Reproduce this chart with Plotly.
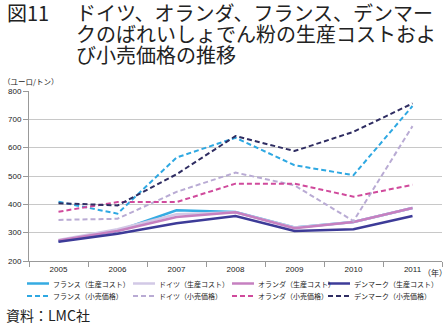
import plotly.graph_objects as go

years = ["2005", "2006", "2007", "2008", "2009", "2010", "2011"]

france_cost = [270, 306, 379, 373, 318, 338, 387]
germany_cost = [274, 312, 365, 372, 318, 338, 387]
netherlands_cost = [272, 306, 355, 372, 316, 338, 387]
denmark_cost = [268, 296, 333, 359, 306, 312, 359]

france_retail = [409, 367, 565, 635, 538, 503, 747]
germany_retail = [345, 349, 444, 512, 467, 341, 676]
netherlands_retail = [374, 408, 408, 473, 473, 427, 469]
denmark_retail = [404, 396, 506, 641, 588, 656, 756]

title_lines = ["ドイツ、オランダ、フランス、デンマー",
               "クのばれいしょでん粉の生産コストおよ",
               "び小売価格の推移"]

W, H = 447, 327
L, R, T, B = 29, 5, 91, 66
PW, PH = W - L - R, H - T - B

def px(x):
    return (x - L) / PW

def py(y):
    return (H - B - y) / PH

FONT = "Noto Sans CJK JP"
DASH = "5px,3px"

series = [
    ("フランス（生産コスト）", france_cost, "#35abe2", "solid", 2.5),
    ("ドイツ（生産コスト）", germany_cost, "#d2c9e6", "solid", 2.5),
    ("オランダ（生産コスト）", netherlands_cost, "#c680c0", "solid", 2.5),
    ("デンマーク（生産コスト）", denmark_cost, "#3d3b98", "solid", 2.5),
    ("フランス（小売価格）", france_retail, "#2ea8e2", DASH, 2),
    ("ドイツ（小売価格）", germany_retail, "#b9abd4", DASH, 2),
    ("オランダ（小売価格）", netherlands_retail, "#d04a9c", DASH, 2),
    ("デンマーク（小売価格）", denmark_retail, "#2f2d62", DASH, 2),
]

fig = go.Figure()
for name, vals, color, dash, w in series:
    fig.add_trace(go.Scatter(
        x=years, y=vals, name=name, mode="lines",
        line=dict(color=color, width=w, dash=dash),
        showlegend=False,
    ))

fig.update_layout(
    width=W, height=H,
    margin=dict(l=L, r=R, t=T, b=B),
    paper_bgcolor="white", plot_bgcolor="white",
    font=dict(family=FONT, size=8, color="#222"),
    xaxis=dict(
        type="category", range=[-0.5, 6.5],
        showline=True, linecolor="#999", linewidth=1,
        ticks="outside", tickson="boundaries", ticklen=5, tickcolor="#999",
        showgrid=False, tickfont=dict(size=8, family="Liberation Sans", color="#222"),
    ),
    yaxis=dict(
        range=[200, 800], dtick=100,
        showline=True, linecolor="#999", linewidth=1,
        ticks="outside", ticklen=5, tickcolor="#999",
        showgrid=True, gridcolor="#c8c8c8", gridwidth=1,
        zeroline=False,
        tickfont=dict(size=8, family="Liberation Sans", color="#222"),
    ),
)

# manual legend (4 columns x 2 rows)
col_x = [27, 133, 232, 328]
row_y = [283.5, 296]
for i, (name, vals, color, dash, w) in enumerate(series):
    r, c = divmod(i, 4)
    x0 = col_x[c]
    y = row_y[r]
    fig.add_shape(
        type="line", xref="paper", yref="paper",
        x0=px(x0), x1=px(x0 + 22), y0=py(y), y1=py(y),
        line=dict(color=color, width=w, dash=dash),
    )
    fig.add_annotation(
        text=name, x=px(x0 + 24), y=py(y), xref="paper", yref="paper",
        xanchor="left", yanchor="middle", showarrow=False,
        font=dict(family=FONT, size=7, color="#222"),
    )

# title: one multi-line text, line pitch from base size 16, glyphs at 20px
title_text = "<br>".join(
    f"<span style='font-size:20px'>{t}</span>" for t in title_lines)
fig.add_annotation(
    text=title_text, x=px(74), y=py(33), xref="paper", yref="paper",
    xanchor="left", yanchor="middle", align="left", showarrow=False,
    font=dict(family=FONT, size=16, color="#222"),
)

ann = [
    dict(text="図11", x=px(5), y=py(12), size=20),
    dict(text="（ユーロ/トン）", x=px(1), y=py(81), size=7.5),
    dict(text="（年）", x=px(421), y=py(272), size=8),
    dict(text="資料：LMC社", x=px(4), y=py(315), size=14),
]
for a in ann:
    fig.add_annotation(
        text=a["text"], x=a["x"], y=a["y"], xref="paper", yref="paper",
        xanchor="left", yanchor="middle", showarrow=False,
        font=dict(family=FONT, size=a["size"], color="#222"),
    )

fig.write_html("out.html")
